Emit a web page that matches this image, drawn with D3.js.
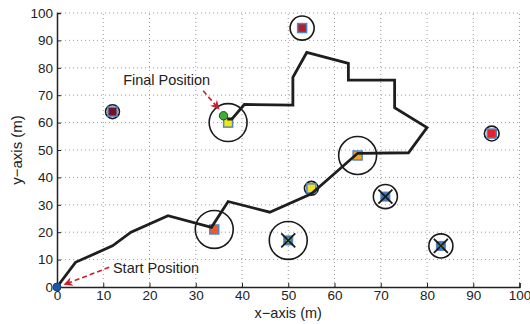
<!DOCTYPE html>
<html><head><meta charset="utf-8">
<script src="https://cdn.jsdelivr.net/npm/d3@7"></script>
<style>body{margin:0;background:#fff}svg{display:block;font-family:"Liberation Sans",Arial,sans-serif}</style>
</head><body><svg id="c" width="530" height="324"></svg>
<script>
const xTicks = [0,10,20,30,40,50,60,70,80,90,100];
const yTicks = [0,10,20,30,40,50,60,70,80,90,100];
const pathX = [0,4,12,16,24,33.4,37,46,55,65,76,80,73,73,63,63,54,51,51,40.5,37.8,36.8];
const pathY = [0,9,15,20,26,21.8,31.2,27.3,34,48.8,49,58.2,65.4,75.5,75.5,81.6,85.6,76.5,66.4,66.6,61.3,61.3];
const sensorX = [12,53,94,37,65,34,55,50,71,83];
const sensorY = [64,94.5,56,60,48,21,36,17,33,15];
const sensorRange = [1.5,2.6,1.6,4.1,4.1,4.1,1.5,4.1,2.6,2.6];
const sensorType = ["sq","sq","sq","sq","sq","sq","sq","x","x","x"];
const sensorColor = ["#7a1020","#b51c2c","#e8202a","#f4e800","#f6a21c","#f05a28","#f2e21c","#f4e800","#3c78c0","#f4e800"];
const startPos = [0,0];
const finalPos = [36,62.5];
const labels = ["Start Position","Final Position"];
const labelPos = [[12.1,5],[14.3,73.8]];
const arrowFrom = [[11.3,7.2],[31.6,71.6]];
const arrowTo = [[1.6,0.9],[35,65]];

const svg = d3.select("#c");
const m = {l:57,r:10.5,t:13,b:37};
const W = 530, H = 324;
const x = d3.scaleLinear().domain([0,100]).range([m.l, W-m.r]);
const y = d3.scaleLinear().domain([0,100]).range([H-m.b, m.t]);

// grid
const g = svg.append("g");
g.selectAll(".gx").data(xTicks.slice(1)).join("line")
 .attr("x1",d=>x(d)).attr("x2",d=>x(d)).attr("y1",y(0)).attr("y2",y(100))
 .attr("stroke","#9a9a9a").attr("stroke-width",1).attr("stroke-dasharray","1,3");
g.selectAll(".gy").data(yTicks.slice(1)).join("line")
 .attr("y1",d=>y(d)).attr("y2",d=>y(d)).attr("x1",x(0)).attr("x2",x(100))
 .attr("stroke","#9a9a9a").attr("stroke-width",1).attr("stroke-dasharray","1,3");

// axes
const xa = svg.append("g").attr("transform",`translate(0,${y(0)})`)
 .call(d3.axisBottom(x).tickValues(xTicks).tickSize(-4).tickPadding(3));
const ya = svg.append("g").attr("transform",`translate(${x(0)},0)`)
 .call(d3.axisLeft(y).tickValues(yTicks).tickSize(-4).tickPadding(4));
[xa,ya].forEach(a=>{
  a.select(".domain").attr("stroke","#222").attr("stroke-width",1.5);
  a.selectAll(".tick line").attr("stroke","#222");
  a.selectAll("text").attr("font-size",13.5).attr("fill","#222").attr("font-family","'Liberation Sans',Arial,sans-serif");
});

svg.append("text").attr("x",x(50)).attr("y",318).attr("text-anchor","middle")
 .attr("font-size",14.5).attr("fill","#222").text("x\u2212axis (m)");
svg.append("text").attr("transform",`translate(22,${y(50)}) rotate(-90)`).attr("text-anchor","middle")
 .attr("font-size",15).attr("fill","#222").text("y\u2212axis (m)");

// path
const line = d3.line().x(d=>x(d[0])).y(d=>y(d[1]));
const pts = pathX.map((v,i)=>[v,pathY[i]]);

// sensors
const sensors = sensorX.map((v,i)=>({x:v,y:sensorY[i],r:sensorRange[i],t:sensorType[i],c:sensorColor[i]}));
const k = x(1)-x(0);
svg.append("g").selectAll("circle").data(sensors).join("circle")
 .attr("cx",d=>x(d.x)).attr("cy",d=>y(d.y)).attr("r",d=>d.r*k)
 .attr("fill","none").attr("stroke","#1a1a1a").attr("stroke-width",1.6);

const mk = svg.append("g");
sensors.forEach(d=>{
  const cx=x(d.x), cy=y(d.y);
  if(d.t==="sq"){
    mk.append("rect").attr("x",cx-4.5).attr("y",cy-4.5).attr("width",9).attr("height",9)
      .attr("fill",d.c).attr("stroke","#4f86c6").attr("stroke-width",1.5);
  } else {
    mk.append("rect").attr("x",cx-4.5).attr("y",cy-4.5).attr("width",9).attr("height",9)
      .attr("fill","#3c78c0").attr("stroke","#4f86c6").attr("stroke-width",1);
    mk.append("rect").attr("x",cx-2).attr("y",cy-2).attr("width",4).attr("height",4).attr("fill",d.c);
    const s=7;
    mk.append("path").attr("d",`M${cx-s},${cy-s}L${cx+s},${cy+s}M${cx-s},${cy+s}L${cx+s},${cy-s}`)
      .attr("stroke","#1a1a1a").attr("stroke-width",1.8);
  }
});

svg.append("path").datum(pts).attr("d",line).attr("fill","none")
 .attr("stroke","#1e1e1e").attr("stroke-width",2.8).attr("stroke-linejoin","miter");

// start & final markers
svg.append("circle").attr("cx",x(startPos[0])).attr("cy",y(startPos[1])).attr("r",4)
 .attr("fill","#1f57a8").attr("stroke","#163f7a").attr("stroke-width",1);
svg.append("circle").attr("cx",x(finalPos[0])).attr("cy",y(finalPos[1])).attr("r",4.2)
 .attr("fill","#3fae3a").attr("stroke","#1d4d1b").attr("stroke-width",1);

// annotations
const defs = svg.append("defs");
defs.append("marker").attr("id","ah").attr("viewBox","0 0 10 10").attr("refX",9).attr("refY",5)
 .attr("markerWidth",11).attr("markerHeight",9).attr("markerUnits","userSpaceOnUse").attr("orient","auto")
 .append("path").attr("d","M0,0L10,5L0,10L3,5Z").attr("fill","#c8202a");
arrowFrom.forEach((f,i)=>{
  svg.append("line").attr("x1",x(f[0])).attr("y1",y(f[1])).attr("x2",x(arrowTo[i][0])).attr("y2",y(arrowTo[i][1]))
   .attr("stroke","#c8202a").attr("stroke-width",1.6).attr("stroke-dasharray","5,3").attr("marker-end","url(#ah)");
});
labels.forEach((t,i)=>{
  svg.append("text").attr("x",x(labelPos[i][0])).attr("y",y(labelPos[i][1])).attr("font-size",14.5)
   .attr("fill","#222").text(t);
});
</script></body></html>
